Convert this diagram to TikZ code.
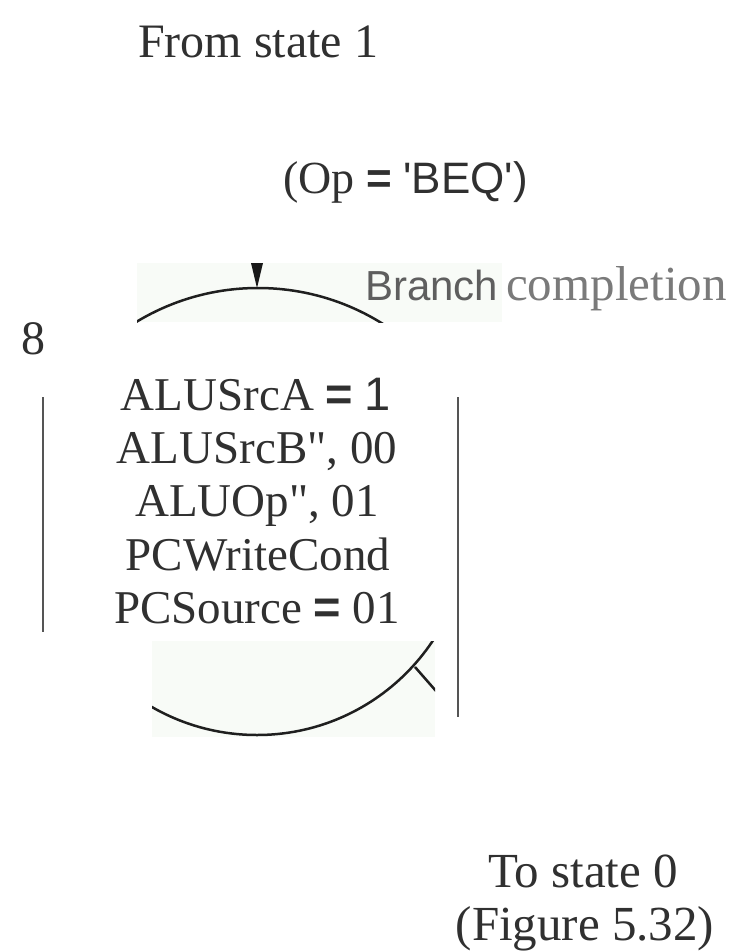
\documentclass[tikz,border=0pt]{standalone}
\usepackage{fontspec}
\newfontfamily\tms{Liberation Serif}
\newfontfamily\hel{Liberation Sans}
\definecolor{ink}{HTML}{303030}
\definecolor{grayA}{HTML}{5E5E5E}
\definecolor{grayB}{HTML}{7A7A7A}
\definecolor{panel}{RGB}{248,251,247}
\definecolor{rule}{HTML}{555555}
\newcommand\myeq{{\hel\bfseries =}}
\begin{document}
\begin{tikzpicture}[x=1pt,y=-1pt,
  txt/.style={inner sep=0pt, text=ink, font=\tms\fontsize{47}{53}\selectfont},
  bigtxt/.style={txt, font=\tms\fontsize{49}{53}\selectfont},
  arcline/.style={draw=black!88, line width=2.5pt},
  sideline/.style={draw=rule, line width=2pt}]
\useasboundingbox[fill=white] (0,0) rectangle (739,951);

% panels
\fill[panel] (137,263) rectangle (502,322);
\fill[panel] (152,641) rectangle (435,737);

% top arc
\begin{scope}
  \clip (137,263) rectangle (502,322);
  \draw[arcline] (258,523) circle (235);
\end{scope}
\fill[black!90] (251,263) -- (263,263) -- (257,288) -- cycle;

% bottom arc and tick
\begin{scope}
  \clip (152,641) rectangle (435,737);
  \draw[arcline] (257,524) circle (211);
  \draw[arcline] (415,667) -- (436,691);
\end{scope}

% side lines
\coordinate (lt) at (43,397);
\coordinate (lb) at (43,632);
\coordinate (rt) at (458,397);
\coordinate (rb) at (458,717);
\draw[sideline] (lt) -- (lb);
\draw[sideline] (rt) -- (rb);

% texts
\node[txt, anchor=base, font=\tms\fontsize{48}{53}\selectfont] (from) at (258,57) {From state 1};
\node[txt, anchor=base west, font=\tms\fontsize{46}{53}\selectfont] (cond) at (283,193)
  {(Op {\fontsize{44}{53}\selectfont\myeq} {\hel\fontsize{44}{53}\selectfont 'BEQ')}};
\node[txt, anchor=base west, text=grayA, font=\hel\fontsize{42}{53}\selectfont] (branch) at (365,300) {Branch};
\node[txt, anchor=base west, text=grayB, font=\tms\fontsize{49}{53}\selectfont] (compl) at (506,300) {completion};
\node[txt, anchor=base, font=\tms\fontsize{48}{53}\selectfont] (num) at (33,354) {8};

\node[txt, anchor=base] (l1) at (256,410) {ALUSrcA \myeq\ {\hel 1}};
\node[txt, anchor=base] (l2) at (257,463) {ALUSrcB", 00};
\node[txt, anchor=base] (l3) at (257,516) {ALUOp", 01};
\node[txt, anchor=base] (l4) at (258,570) {PCWriteCond};
\node[txt, anchor=base] (l5) at (257,623) {PCSource \myeq\ 01};

\node[bigtxt, anchor=base] (to) at (583,887) {To state 0};
\node[bigtxt, anchor=base] (fig) at (585,940) {(Figure 5.32)};
\end{tikzpicture}
\end{document}
